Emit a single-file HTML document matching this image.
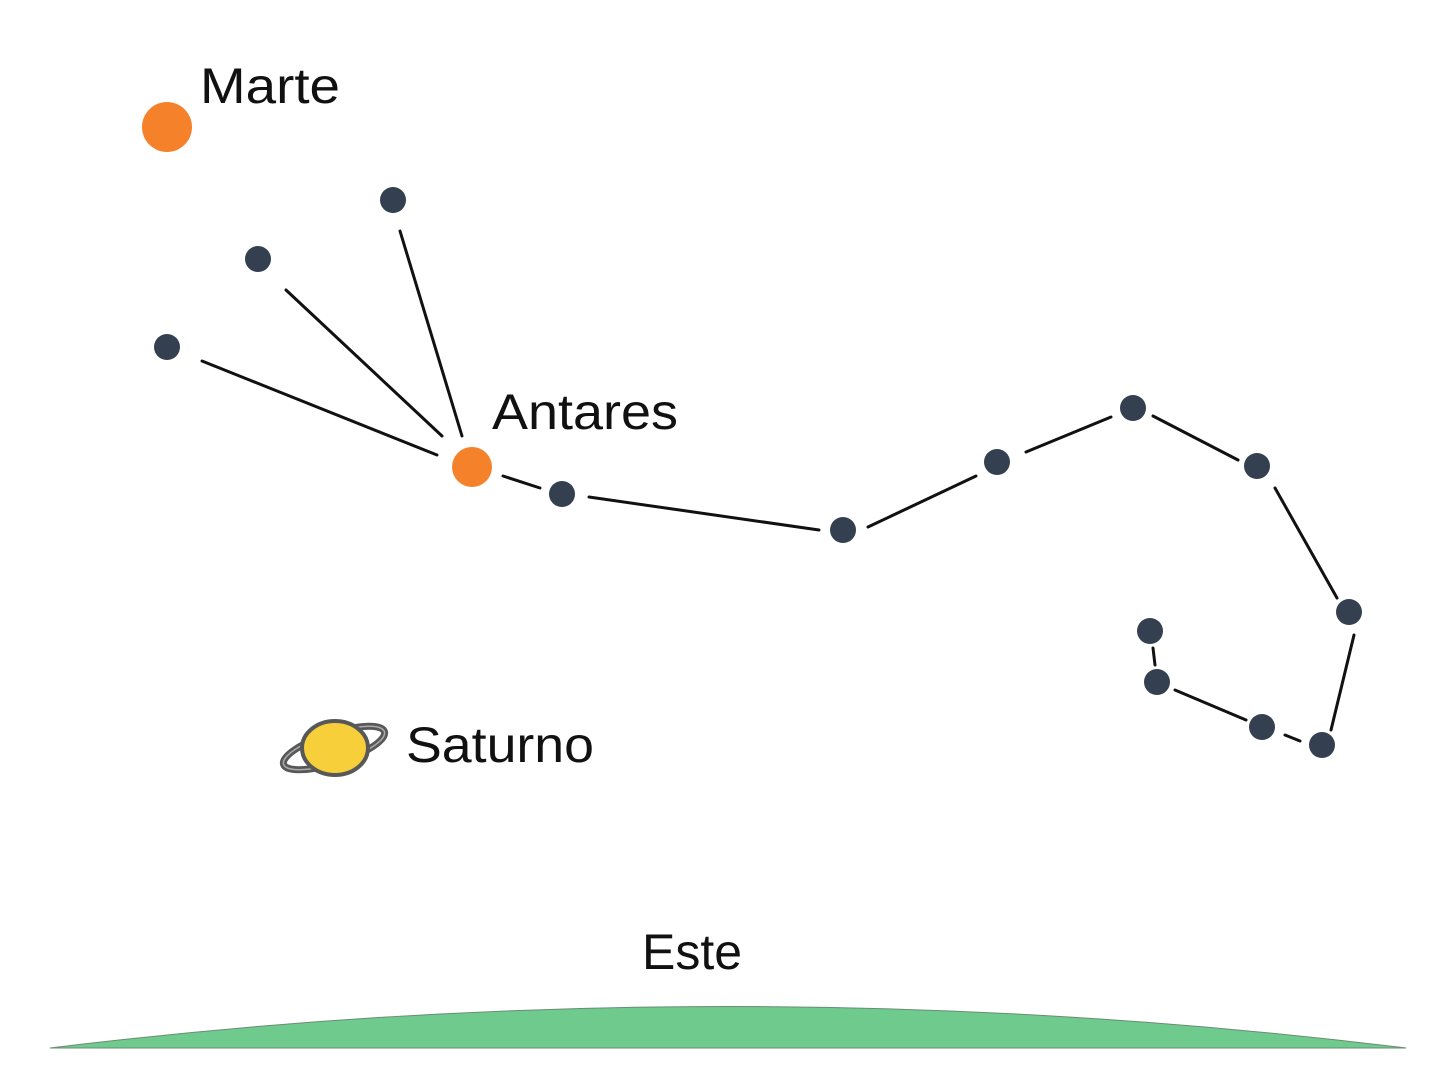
<!DOCTYPE html>
<html><head><style>html,body{margin:0;padding:0;background:#fff}svg{display:block}</style></head><body>
<svg width="1452" height="1078" viewBox="0 0 1452 1078" xmlns="http://www.w3.org/2000/svg">
<rect width="1452" height="1078" fill="#fff"/>
<path d="M50 1048 Q728 965 1406 1048 Z" fill="#6fcb8d" stroke="#6a8c74" stroke-width="1"/>
<g stroke="#111" stroke-width="3" stroke-linecap="round">
<line x1="202" y1="361" x2="437" y2="455"/>
<line x1="286" y1="290" x2="442" y2="436"/>
<line x1="400" y1="231" x2="462" y2="436"/>
<line x1="503" y1="476" x2="540" y2="488"/>
<line x1="589" y1="497" x2="819" y2="530"/>
<line x1="868" y1="527" x2="976" y2="476"/>
<line x1="1026" y1="452" x2="1111" y2="417"/>
<line x1="1153" y1="416" x2="1238" y2="460"/>
<line x1="1275" y1="488" x2="1337" y2="598"/>
<line x1="1354" y1="635" x2="1331" y2="730"/>
<line x1="1300" y1="741" x2="1285" y2="735"/>
<line x1="1246" y1="720" x2="1175" y2="690"/>
<line x1="1155" y1="665" x2="1153" y2="648"/>
</g>
<g fill="#34404f">
<circle cx="393" cy="200" r="13"/><circle cx="258" cy="259" r="13"/><circle cx="167" cy="347" r="13"/>
<circle cx="562" cy="494" r="13"/><circle cx="843" cy="530" r="13"/><circle cx="997" cy="462" r="13"/>
<circle cx="1133" cy="408" r="13"/><circle cx="1257" cy="466" r="13"/><circle cx="1349" cy="612" r="13"/>
<circle cx="1322" cy="745" r="13"/><circle cx="1262" cy="727" r="13"/><circle cx="1157" cy="682" r="13"/>
<circle cx="1150" cy="631" r="13"/>
</g>
<circle cx="167" cy="127" r="25" fill="#f5822a"/>
<circle cx="472" cy="467" r="20" fill="#f5822a"/>
<g transform="translate(334,748) rotate(-18)">
<ellipse cx="0" cy="0" rx="53" ry="15" fill="none" stroke="#585858" stroke-width="7"/>
<ellipse cx="0" cy="0" rx="53" ry="15" fill="none" stroke="#aaa" stroke-width="1.5"/>
</g>
<ellipse cx="335" cy="748" rx="33" ry="27" fill="#f6cf3b" stroke="#585858" stroke-width="4"/>
<g font-family="Liberation Sans, sans-serif" font-size="50" fill="#111">
<text x="200" y="103" textLength="140" lengthAdjust="spacingAndGlyphs">Marte</text>
<text x="492" y="429" textLength="186" lengthAdjust="spacingAndGlyphs">Antares</text>
<text x="406" y="762" textLength="188" lengthAdjust="spacingAndGlyphs">Saturno</text>
<text x="642" y="969" textLength="100" lengthAdjust="spacingAndGlyphs">Este</text>
</g>
</svg>
</body></html>
